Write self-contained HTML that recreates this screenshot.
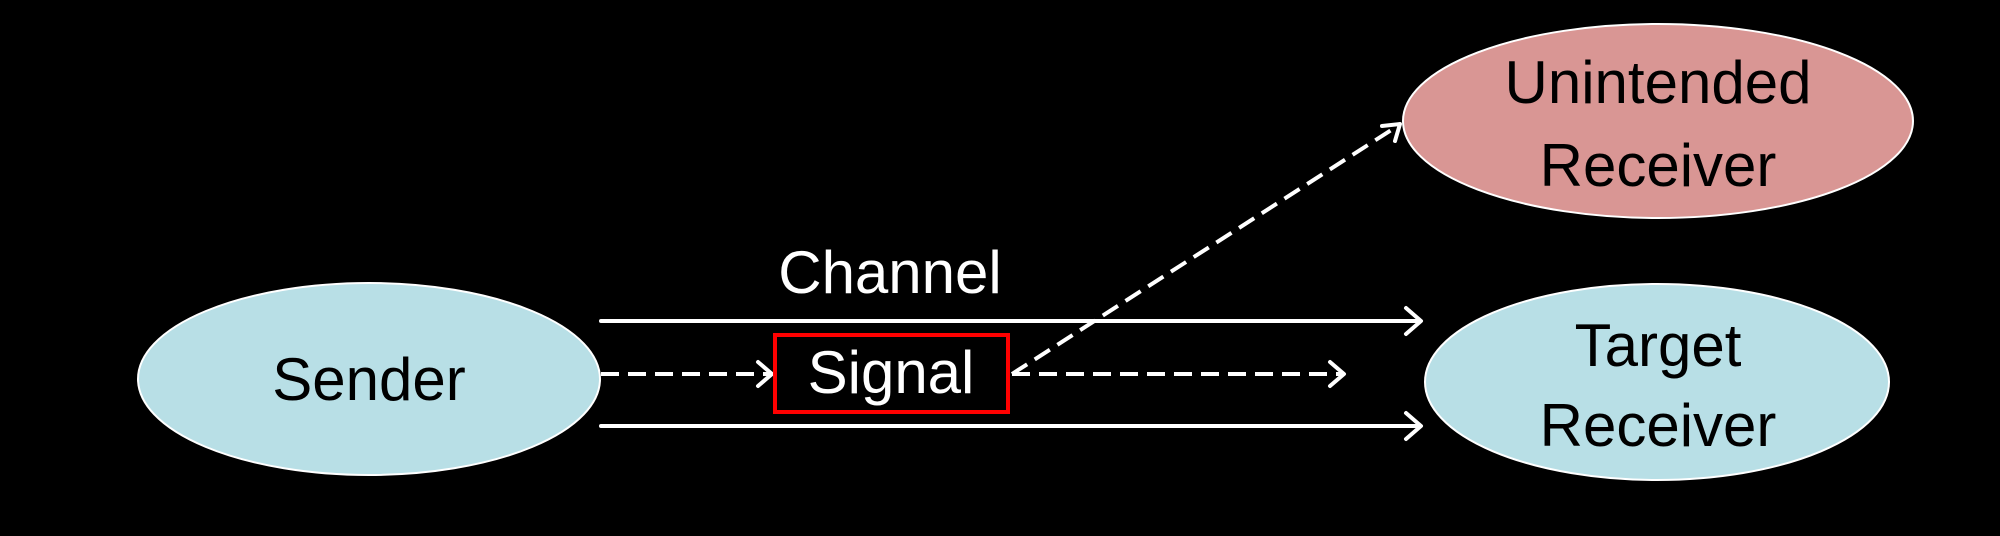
<!DOCTYPE html>
<html><head><style>
html,body{margin:0;padding:0;background:#000;}
svg{display:block;}
text{font-family:"Liberation Sans",sans-serif;font-size:60px;text-anchor:middle;}
</style></head><body>
<svg width="2000" height="536" viewBox="0 0 2000 536" xmlns="http://www.w3.org/2000/svg">
<rect width="2000" height="536" fill="#000"/>
<ellipse cx="369" cy="379" rx="231" ry="96" fill="#b8dfe6" stroke="#fff" stroke-width="2"/>
<ellipse cx="1658" cy="121" rx="255" ry="97" fill="#d99694" stroke="#fff" stroke-width="2"/>
<ellipse cx="1657" cy="382" rx="232" ry="98" fill="#b8dfe6" stroke="#fff" stroke-width="2"/>
<text x="369" y="400" fill="#000">Sender</text>
<text x="1658" y="103" fill="#000">Unintended</text>
<text x="1658" y="186" fill="#000">Receiver</text>
<text x="1658" y="366" fill="#000">Target</text>
<text x="1658" y="446" fill="#000">Receiver</text>
<text x="890" y="293" fill="#fff">Channel</text>
<g stroke="#fff" stroke-width="4" fill="none" stroke-linecap="round" stroke-linejoin="round">
<line x1="601" y1="321" x2="1420" y2="321"/>
<polyline points="1406,308 1421,321 1406,334"/>
<line x1="601" y1="426" x2="1420" y2="426"/>
<polyline points="1406,413 1421,426 1406,439"/>
<line x1="601" y1="374" x2="770" y2="374" stroke-dasharray="18,9" stroke-linecap="butt"/>
<polyline points="758,362 772,374 758,386"/>
<line x1="1012" y1="374" x2="1343" y2="374" stroke-dasharray="18,9" stroke-linecap="butt"/>
<polyline points="1330,362 1344,374 1330,386"/>
<line x1="1012" y1="374" x2="1399" y2="125" stroke-dasharray="18,9" stroke-linecap="butt"/>
<polyline points="1382,126 1400,124 1395,141"/>
</g>
<rect x="775" y="335" width="233" height="77" fill="none" stroke="#ff0000" stroke-width="4"/>
<text x="891" y="393" fill="#fff">Signal</text>
</svg>
</body></html>
